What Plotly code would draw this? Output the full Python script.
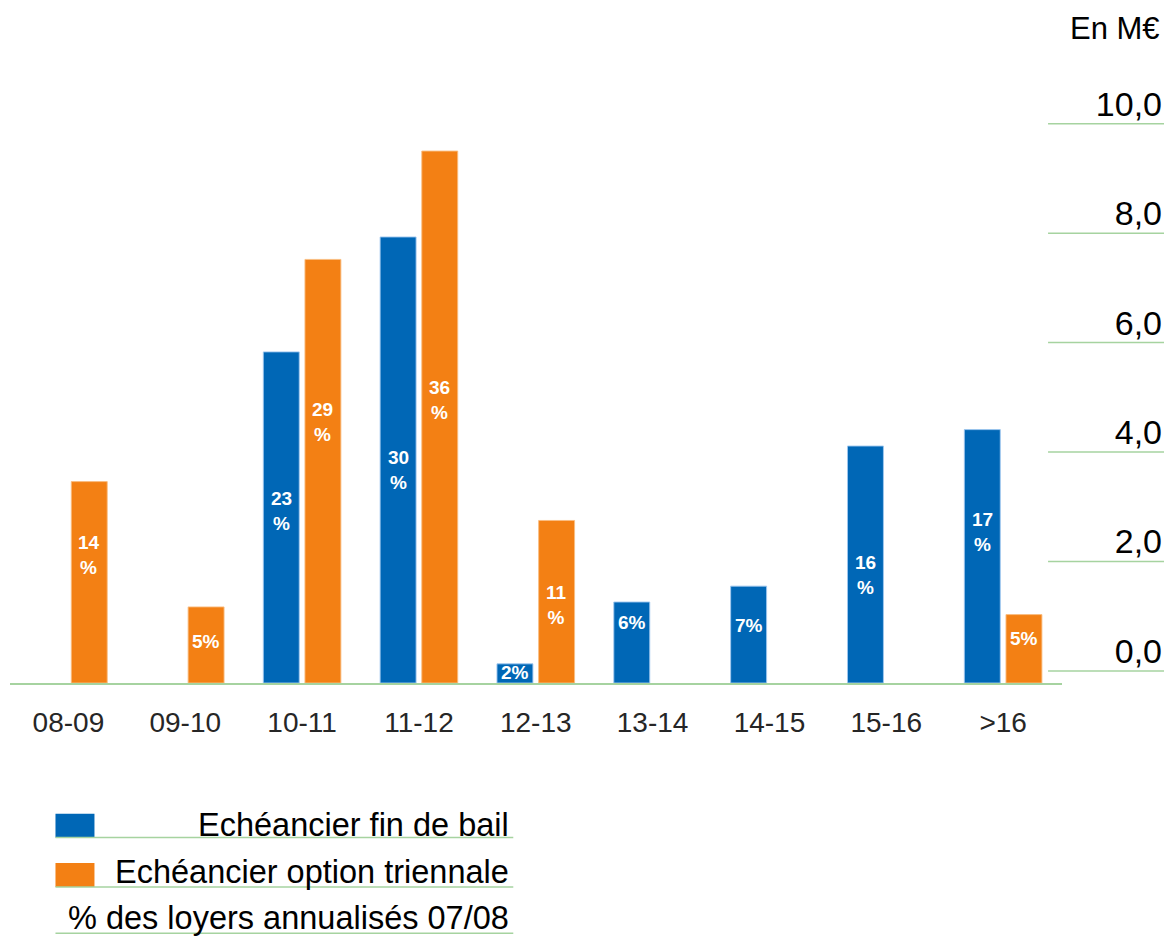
import plotly.graph_objects as go

# Lease expiry schedule, in M€
periods = ["08-09", "09-10", "10-11", "11-12", "12-13", "13-14", "14-15", "15-16", ">16"]
fin_de_bail = [None, None, 6.05, 8.15, 0.35, 1.48, 1.77, 4.33, 4.63]
option_triennale = [3.68, 1.39, 7.74, 9.72, 2.97, None, None, None, 1.25]

# Share of annualised rents 07/08 (%)
pct_fin_de_bail = [None, None, 23, 30, 2, 6, 7, 16, 17]
pct_option_triennale = [14, 5, 29, 36, 11, None, None, None, 5]

# Height (M€) at which each percentage label sits inside its bar
label_y_fin_de_bail = [None, None, 3.14, 3.89, 0.19, 1.11, 1.05, 1.97, 2.76]
label_y_option_triennale = [2.34, 0.76, 4.77, 5.17, 1.42, None, None, None, 0.81]

scale_ticks = [0, 2, 4, 6, 8, 10]
unit_label = "En M€"
legend_labels = ["Echéancier fin de bail", "Echéancier option triennale",
                 "% des loyers annualisés 07/08"]

BLUE = "#0067B6"
ORANGE = "#F38014"
GREEN = "#A6D3A0"
FONT = "Liberation Sans, Arial, sans-serif"

W, H = 1170, 941
M_L, M_R, M_T, M_B = 9.5, 5, 80.7, 257.5
PLOT_W = W - M_L - M_R
PLOT_H = H - M_T - M_B


def px_x(x):
    return (x - M_L) / PLOT_W


def px_y(y):
    return (H - M_B - y) / PLOT_H


fig = go.Figure()
fig.add_trace(go.Bar(
    x=periods, y=fin_de_bail, name=legend_labels[0],
    marker=dict(color=BLUE, line=dict(color="rgba(160,200,240,0.9)", width=1)),
    showlegend=False, hoverinfo="skip",
))
fig.add_trace(go.Bar(
    x=periods, y=option_triennale, name=legend_labels[1],
    marker=dict(color=ORANGE, line=dict(color="rgba(250,190,130,0.9)", width=1)),
    showlegend=False, hoverinfo="skip",
))


def pct_text(v):
    return f"{v}<br>%" if v >= 10 else f"{v}%"


annotations = []
for series, heights, shift in ((pct_fin_de_bail, label_y_fin_de_bail, -20.8),
                               (pct_option_triennale, label_y_option_triennale, 20.8)):
    for cat, v, yv in zip(periods, series, heights):
        if v is None:
            continue
        annotations.append(dict(
            x=cat, y=yv, xref="x", yref="y", xshift=shift,
            text=pct_text(v), showarrow=False,
            font=dict(family=FONT, size=19, color="white", weight="bold"),
            xanchor="center", yanchor="middle", align="center",
        ))

# unit caption
annotations.append(dict(
    x=px_x(1162), y=px_y(28), xref="paper", yref="paper",
    text=unit_label, showarrow=False, xanchor="right", yanchor="middle",
    font=dict(family=FONT, size=31, color="black"),
))

shapes = []
# short guide lines under the scale labels
for t in scale_ticks:
    shapes.append(dict(
        type="line", xref="paper", yref="y2",
        x0=px_x(1048), x1=px_x(1164), y0=t, y1=t,
        line=dict(color=GREEN, width=1.5),
    ))

# legend block
legend_rows = [(825.5, 838.3, BLUE), (872.5, 887.7, ORANGE), (919, 934, None)]
for label, (yc, yline, color) in zip(legend_labels, legend_rows):
    if color is not None:
        shapes.append(dict(
            type="rect", xref="paper", yref="paper",
            x0=px_x(55), x1=px_x(94), y0=px_y(yline - 24), y1=px_y(yline),
            fillcolor=color, line=dict(width=0),
        ))
    shapes.append(dict(
        type="line", xref="paper", yref="paper",
        x0=px_x(55), x1=px_x(513), y0=px_y(yline), y1=px_y(yline),
        line=dict(color=GREEN, width=1.5),
    ))
    annotations.append(dict(
        x=px_x(511), y=px_y(yc), xref="paper", yref="paper",
        text=label, showarrow=False, xanchor="right", yanchor="middle",
        font=dict(family=FONT, size=32.5, color="black"),
    ))

fig.update_layout(
    width=W, height=H, autosize=False,
    margin=dict(l=M_L, r=M_R, t=M_T, b=M_B, pad=0),
    paper_bgcolor="white", plot_bgcolor="white",
    barmode="group", bargap=0.287, bargroupgap=0.137,
    separators=", ",
    xaxis=dict(
        domain=[0, px_x(1061.5)], type="category",
        showline=True, linecolor=GREEN, linewidth=2,
        ticks="", showgrid=False, zeroline=False,
        ticklabelstandoff=13,
        tickfont=dict(family=FONT, size=28, color="#262626"),
    ),
    yaxis=dict(range=[0, 11], visible=False, showgrid=False, zeroline=False),
    yaxis2=dict(
        overlaying="y", side="right", anchor="free", position=1,
        range=[-0.22, 10.78], tickvals=scale_ticks, tickformat=".1f",
        ticklabelposition="inside", ticklabelshift=-20, ticks="",
        showgrid=False, zeroline=False, showline=False,
        tickfont=dict(family=FONT, size=34, color="black"),
    ),
    shapes=shapes,
    annotations=annotations,
)

fig.write_html("out.html")
